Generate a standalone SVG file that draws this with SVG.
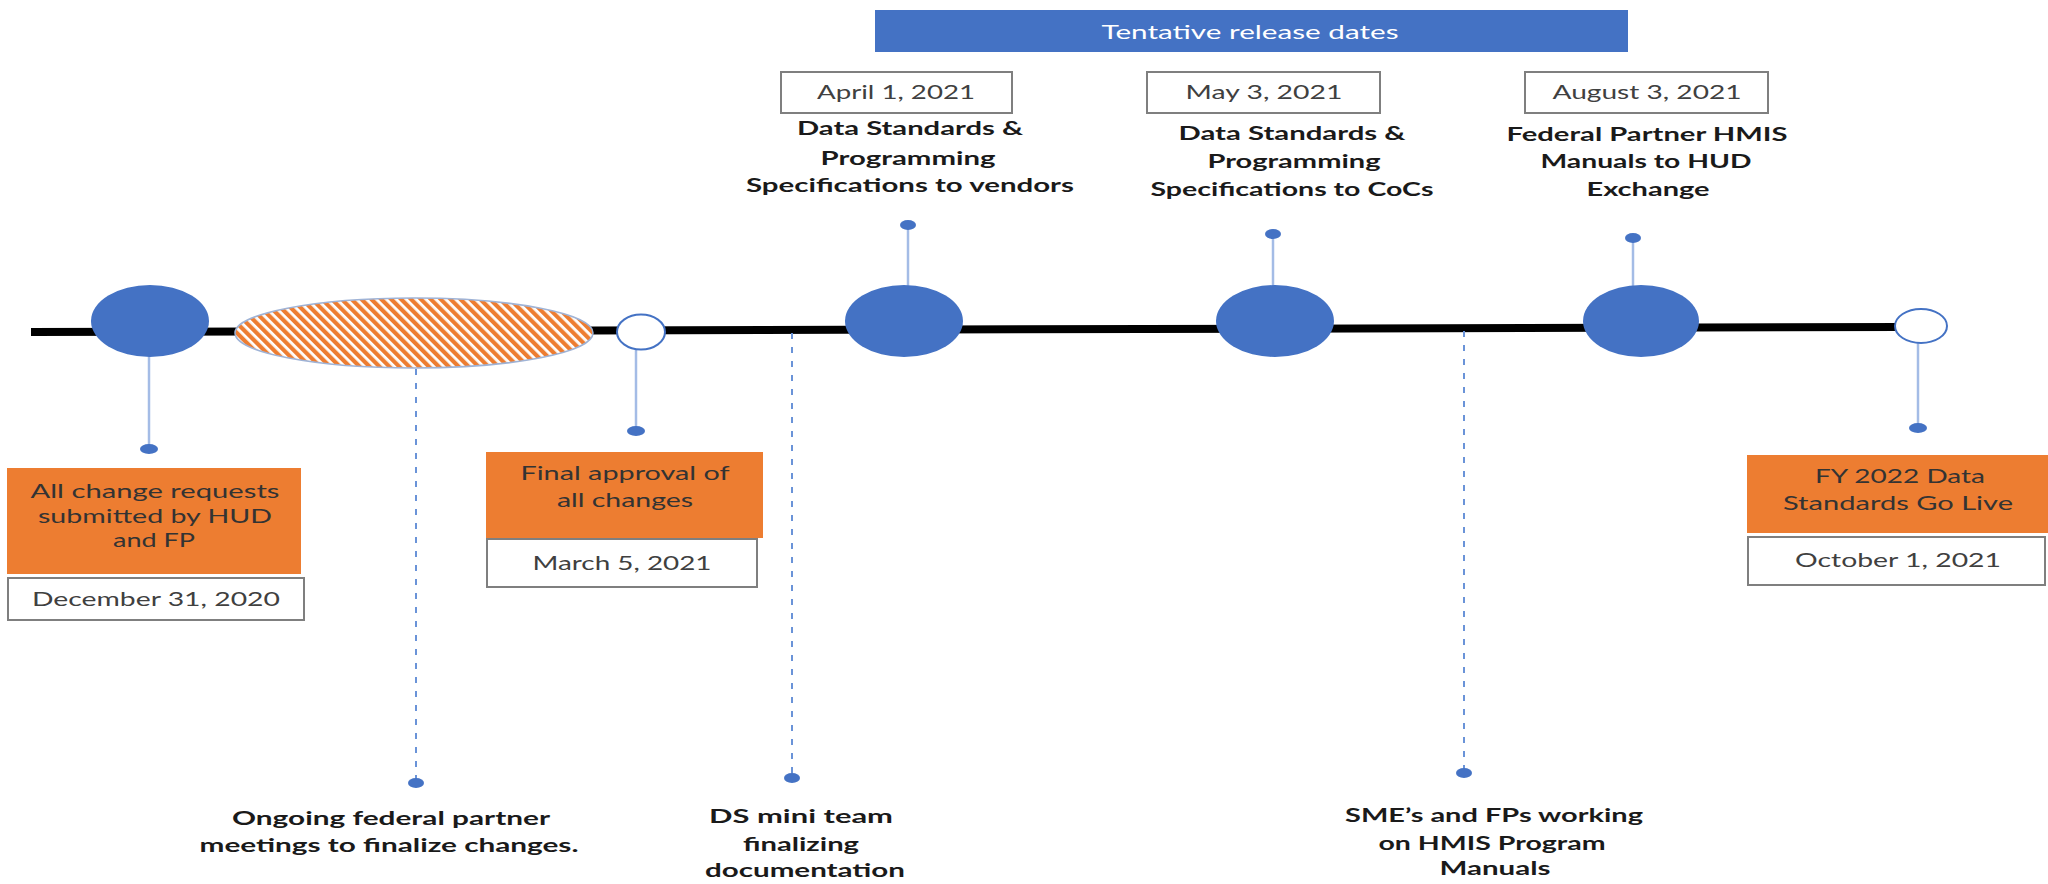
<svg xmlns="http://www.w3.org/2000/svg" width="2048" height="884" viewBox="0 0 2048 884">
<style>
  .blue{fill:#4472C4}
  .open{fill:#ffffff;stroke:#4472C4;stroke-width:2}
  .orange{fill:#ED7D31}
  .datebox{fill:#ffffff;stroke:#7F7F7F;stroke-width:2}
  .stem{stroke:#A4BCE6;stroke-width:2.5;fill:none}
  .dash{stroke:#6A93D8;stroke-width:2;stroke-dasharray:6 8;fill:none}
  .dot{fill:#4472C4}
  text{font-family:Lato,"Liberation Sans",Arial,sans-serif;font-size:19px;text-anchor:middle}
  .t-title{fill:#ffffff;font-size:20px}
  .t-date{fill:#404040}
  .t-box{fill:#333333}
  .t-bold{fill:#1a1a1a;font-weight:bold}
</style>
<defs>
  <pattern id="hatch" patternUnits="userSpaceOnUse" width="7" height="7" patternTransform="rotate(-45)">
    <rect width="7" height="7" fill="#ffffff"/>
    <rect width="4.2" height="7" fill="#ED7D31"/>
  </pattern>
</defs>

<g id="timeline">
  <line x1="31" y1="332" x2="1900" y2="327" stroke="#000000" stroke-width="8"/>
</g>

<g id="connectors">
  <line class="stem" x1="149" y1="355" x2="149" y2="449"/>
  <ellipse class="dot" cx="149" cy="449" rx="9" ry="5"/>
  <line class="stem" x1="636" y1="349" x2="636" y2="431"/>
  <ellipse class="dot" cx="636" cy="431" rx="9" ry="5"/>
  <line class="stem" x1="908" y1="287" x2="908" y2="225"/>
  <ellipse class="dot" cx="908" cy="225" rx="8" ry="5"/>
  <line class="stem" x1="1273" y1="287" x2="1273" y2="234"/>
  <ellipse class="dot" cx="1273" cy="234" rx="8" ry="5"/>
  <line class="stem" x1="1633" y1="287" x2="1633" y2="238"/>
  <ellipse class="dot" cx="1633" cy="238" rx="8" ry="5"/>
  <line class="stem" x1="1918" y1="342" x2="1918" y2="428"/>
  <ellipse class="dot" cx="1918" cy="428" rx="9" ry="5"/>
  <line class="dash" x1="416" y1="369" x2="416" y2="783"/>
  <ellipse class="dot" cx="416" cy="783" rx="8" ry="5"/>
  <line class="dash" x1="792" y1="333" x2="792" y2="778"/>
  <ellipse class="dot" cx="792" cy="778" rx="8" ry="5"/>
  <line class="dash" x1="1464" y1="331" x2="1464" y2="773"/>
  <ellipse class="dot" cx="1464" cy="773" rx="8" ry="5"/>
</g>

<g id="title">
  <rect class="blue" x="875" y="10" width="753" height="42"/>
  <text class="t-title" x="1250" y="39" textLength="297" lengthAdjust="spacingAndGlyphs">Tentative release dates</text>
</g>

<g id="dec31">
  <ellipse class="blue" cx="150" cy="321" rx="59" ry="36"/>
  <rect class="orange" x="7" y="468" width="294" height="106"/>
  <text class="t-box" x="155" y="498" textLength="249" lengthAdjust="spacingAndGlyphs">All change requests</text>
  <text class="t-box" x="155" y="523" textLength="234" lengthAdjust="spacingAndGlyphs">submitted by HUD</text>
  <text class="t-box" x="154" y="547" textLength="82" lengthAdjust="spacingAndGlyphs">and FP</text>
  <rect class="datebox" x="8" y="578" width="296" height="42"/>
  <text class="t-date" x="156" y="606" textLength="248" lengthAdjust="spacingAndGlyphs">December 31, 2020</text>
</g>

<g id="ongoing">
  <ellipse cx="414" cy="333" rx="179" ry="35" fill="url(#hatch)" stroke="#9FB3D6" stroke-width="1.5"/>
  <text class="t-bold" x="391" y="825" textLength="318" lengthAdjust="spacingAndGlyphs">Ongoing federal partner</text>
  <text class="t-bold" x="389" y="852" textLength="379" lengthAdjust="spacingAndGlyphs">meetings to finalize changes.</text>
</g>

<g id="mar5">
  <ellipse class="open" cx="641" cy="332" rx="24" ry="17.5"/>
  <rect class="orange" x="486" y="452" width="277" height="86"/>
  <text class="t-box" x="625" y="480" textLength="209" lengthAdjust="spacingAndGlyphs">Final approval of</text>
  <text class="t-box" x="625" y="507" textLength="136" lengthAdjust="spacingAndGlyphs">all changes</text>
  <rect class="datebox" x="487" y="539" width="270" height="48"/>
  <text class="t-date" x="622" y="570" textLength="179" lengthAdjust="spacingAndGlyphs">March 5, 2021</text>
</g>

<g id="dsteam">
  <text class="t-bold" x="801" y="823" textLength="184" lengthAdjust="spacingAndGlyphs">DS mini team</text>
  <text class="t-bold" x="801" y="851" textLength="116" lengthAdjust="spacingAndGlyphs">finalizing</text>
  <text class="t-bold" x="805" y="877" textLength="200" lengthAdjust="spacingAndGlyphs">documentation</text>
</g>

<g id="apr1">
  <ellipse class="blue" cx="904" cy="321" rx="59" ry="36"/>
  <rect class="datebox" x="781" y="72" width="231" height="41"/>
  <text class="t-date" x="896" y="99" textLength="158" lengthAdjust="spacingAndGlyphs">April 1, 2021</text>
  <text class="t-bold" x="910" y="135" textLength="226" lengthAdjust="spacingAndGlyphs">Data Standards &amp;</text>
  <text class="t-bold" x="908" y="165" textLength="175" lengthAdjust="spacingAndGlyphs">Programming</text>
  <text class="t-bold" x="910" y="192" textLength="328" lengthAdjust="spacingAndGlyphs">Specifications to vendors</text>
</g>

<g id="may3">
  <ellipse class="blue" cx="1275" cy="321" rx="59" ry="36"/>
  <rect class="datebox" x="1147" y="72" width="233" height="41"/>
  <text class="t-date" x="1264" y="99" textLength="157" lengthAdjust="spacingAndGlyphs">May 3, 2021</text>
  <text class="t-bold" x="1292" y="140" textLength="227" lengthAdjust="spacingAndGlyphs">Data Standards &amp;</text>
  <text class="t-bold" x="1294" y="168" textLength="173" lengthAdjust="spacingAndGlyphs">Programming</text>
  <text class="t-bold" x="1292" y="196" textLength="283" lengthAdjust="spacingAndGlyphs">Specifications to CoCs</text>
</g>

<g id="sme">
  <text class="t-bold" x="1494" y="822" textLength="298" lengthAdjust="spacingAndGlyphs">SME’s and FPs working</text>
  <text class="t-bold" x="1492" y="850" textLength="227" lengthAdjust="spacingAndGlyphs">on HMIS Program</text>
  <text class="t-bold" x="1495" y="875" textLength="111" lengthAdjust="spacingAndGlyphs">Manuals</text>
</g>

<g id="aug3">
  <ellipse class="blue" cx="1641" cy="321" rx="58" ry="36"/>
  <rect class="datebox" x="1525" y="72" width="243" height="41"/>
  <text class="t-date" x="1647" y="99" textLength="189" lengthAdjust="spacingAndGlyphs">August 3, 2021</text>
  <text class="t-bold" x="1647" y="141" textLength="281" lengthAdjust="spacingAndGlyphs">Federal Partner HMIS</text>
  <text class="t-bold" x="1646" y="168" textLength="211" lengthAdjust="spacingAndGlyphs">Manuals to HUD</text>
  <text class="t-bold" x="1648" y="196" textLength="123" lengthAdjust="spacingAndGlyphs">Exchange</text>
</g>

<g id="oct1">
  <ellipse class="open" cx="1921" cy="326" rx="26" ry="17"/>
  <rect class="orange" x="1747" y="455" width="301" height="78"/>
  <text class="t-box" x="1900" y="483" textLength="170" lengthAdjust="spacingAndGlyphs">FY 2022 Data</text>
  <text class="t-box" x="1898" y="510" textLength="230" lengthAdjust="spacingAndGlyphs">Standards Go Live</text>
  <rect class="datebox" x="1748" y="537" width="297" height="48"/>
  <text class="t-date" x="1898" y="567" textLength="206" lengthAdjust="spacingAndGlyphs">October 1, 2021</text>
</g>
</svg>
